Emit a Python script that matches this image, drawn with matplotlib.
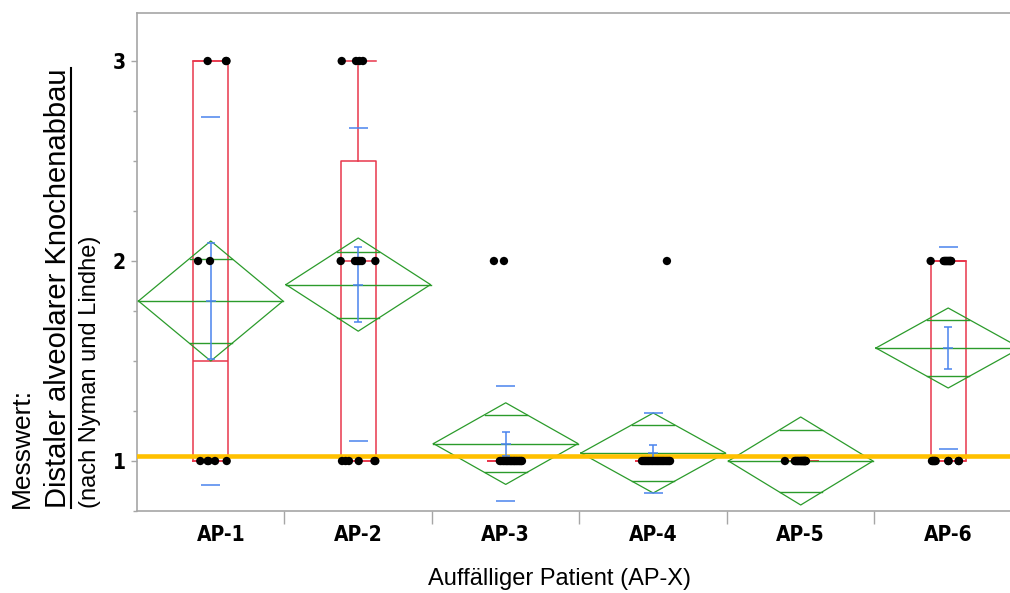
import numpy as np
import matplotlib
matplotlib.use("Agg")
import matplotlib.pyplot as plt
from matplotlib.lines import Line2D
from matplotlib.transforms import ScaledTranslation

# groups on the x axis
groups = ["AP-1", "AP-2", "AP-3", "AP-4", "AP-5", "AP-6"]

# single observations per patient (scores 1..3) and their horizontal jitter
ap1_vals = [1, 1, 1, 1, 1, 2, 2, 3, 3, 3]
ap1_jit = [-0.071, -0.021, -0.015, 0.029, 0.108, -0.086, -0.005, -0.021, 0.103, 0.107]
ap2_vals = [1, 1, 1, 1, 1, 1, 2, 2, 2, 2, 2, 2, 2, 3, 3, 3, 3]
ap2_jit = [-0.110, -0.086, -0.063, 0.003, 0.110, 0.116,
           -0.119, -0.022, -0.008, 0.002, 0.012, 0.025, 0.116,
           -0.112, -0.015, 0.008, 0.032]
ap3_vals = [1] * 21 + [2, 2]
ap3_jit = [-0.04, -0.032, -0.02, -0.012, -0.002, 0.006, 0.012, 0.021, 0.03, 0.036, 0.043,
           0.051, 0.057, 0.063, 0.071, 0.077, 0.085, 0.092, 0.098, 0.105, 0.11,
           -0.080, -0.012]
ap4_vals = [1] * 24 + [2]
ap4_jit = [-0.076, -0.066, -0.058, -0.05, -0.041, -0.033, -0.026, -0.017, -0.008, 0.0, 0.009,
           0.017, 0.026, 0.034, 0.042, 0.05, 0.058, 0.066, 0.074, 0.083, 0.091, 0.099, 0.107,
           0.114, 0.093]
ap5_vals = [1] * 20
ap5_jit = [-0.107, -0.04, -0.035, -0.03, -0.024, -0.019, -0.014, -0.008, -0.003, 0.002, 0.006,
           0.01, 0.014, 0.018, 0.021, 0.024, 0.027, 0.03, 0.033, 0.035]
ap6_vals = [1] * 10 + [2] * 13
ap6_jit = [-0.11, -0.105, -0.1, -0.095, -0.09, -0.085, 0.0, 0.003, 0.07, 0.073,
           -0.119, -0.03, -0.025, -0.02, -0.015, -0.01, -0.005, 0.0, 0.005, 0.01, 0.014, 0.017, 0.02]

# summary values
means = [1.80, 1.882, 1.087, 1.04, 1.00, 1.565]
ci_half = [0.30, 0.233, 0.204, 0.20, 0.22, 0.20]
sd = [0.919, 0.781, 0.288, 0.20, 0.0, 0.507]
se = [0.29, 0.189, 0.06, 0.04, 0.0, 0.106]

q1 = [1, 1, 1, 1, 1, 1]
median = [1.5, 2, 1, 1, 1, 2]
q3 = [3, 2.5, 1, 1, 1, 2]
whisk_lo = [1, 1, 1, 1, 1, 1]
whisk_hi = [3, 3, 1, 1, 1, 2]

ref_value = 1.025

red = "#e8374c"
green = "#2b9b2b"
blue = "#4a84ee"
orange = "#ffc000"
grey = "#a6a6a6"

fig = plt.figure(figsize=(10.1, 5.93), dpi=100)
ax = fig.add_axes([137 / 1010, 82 / 593, 873 / 1010, 498.5 / 593])

x = np.arange(len(groups))

# box plots
stats = []
for i in range(len(groups)):
    stats.append(dict(med=median[i], q1=q1[i], q3=q3[i],
                      whislo=whisk_lo[i], whishi=whisk_hi[i], fliers=[]))
ax.bxp(stats, positions=x, widths=0.237, capwidths=0.237, showfliers=False,
       manage_ticks=False,
       boxprops=dict(color=red, lw=1.1),
       medianprops=dict(color=red, lw=1.1),
       whiskerprops=dict(color=red, lw=1.1),
       capprops=dict(color=red, lw=1.1))

# means diamonds with overlap marks
hw = 0.49
for i in range(len(groups)):
    m, c = means[i], ci_half[i]
    ax.plot([x[i] - hw, x[i], x[i] + hw, x[i], x[i] - hw],
            [m, m + c, m, m - c, m], color=green, lw=0.9, zorder=3)
    ax.plot([x[i] - hw, x[i] + hw], [m, m], color=green, lw=1.0, zorder=3)
    ov = c / np.sqrt(2)
    w = hw * (1 - 1 / np.sqrt(2))
    ax.plot([x[i] - w, x[i] + w], [m + ov, m + ov], color=green, lw=1.0, zorder=3)
    ax.plot([x[i] - w, x[i] + w], [m - ov, m - ov], color=green, lw=1.0, zorder=3)

# reference line
ax.axhline(ref_value, color=orange, lw=3.3, zorder=3.5)

# std dev lines and std error bars
has_sd = np.array(sd) > 0
sd_x = x[has_sd]
sd_m = np.array(means)[has_sd]
sd_v = np.array(sd)[has_sd]
ax.hlines(sd_m + sd_v, sd_x - 0.064, sd_x + 0.064, color=blue, lw=1.1, zorder=4)
ax.hlines(sd_m - sd_v, sd_x - 0.064, sd_x + 0.064, color=blue, lw=1.1, zorder=4)
ax.errorbar(sd_x, sd_m, yerr=np.array(se)[has_sd], fmt="_", ms=7, mew=1.1,
            color=blue, ecolor=blue, elinewidth=1.1, capsize=3.2, capthick=1.1, zorder=4)

# points
all_vals = [ap1_vals, ap2_vals, ap3_vals, ap4_vals, ap5_vals, ap6_vals]
all_jit = [ap1_jit, ap2_jit, ap3_jit, ap4_jit, ap5_jit, ap6_jit]
for i in range(len(groups)):
    ax.scatter(x[i] + np.array(all_jit[i]), all_vals[i], s=36, color="black",
               edgecolors="none", zorder=5)

ax.set_xlim(-0.5, 5.419)
ax.set_ylim(0.75, 3.2425)

tick_font = dict(family="DejaVu Sans", stretch="condensed", weight="bold")

ax.set_yticks([1, 2, 3])
ax.set_yticklabels(["1", "2", "3"], fontsize=15, **tick_font)
ax.set_yticks(np.arange(0.75, 3.25, 0.25), minor=True)
ax.tick_params(axis="y", which="both", direction="out", color=grey, pad=4)
ax.tick_params(axis="y", which="major", length=4, width=1)
ax.tick_params(axis="y", which="minor", length=3, width=1)

ax.set_xticks(x)
ax.set_xticklabels(groups, fontsize=15, **tick_font)
ax.set_xticks(np.arange(0.5, 5.0, 1.0), minor=True)
ax.tick_params(axis="x", which="major", length=0, pad=10)
ax.tick_params(axis="x", which="minor", direction="out", length=9, width=1, color=grey)
lbl = ax.get_xticklabels()[0]
lbl.set_transform(lbl.get_transform() + ScaledTranslation(0.1, 0, fig.dpi_scale_trans))

for side in ["left", "bottom", "top"]:
    ax.spines[side].set_color(grey)
    ax.spines[side].set_linewidth(1.2)
ax.spines["right"].set_visible(False)

# axis titles
fig.text(559 / 1010, 14 / 593, "Auffälliger Patient (AP-X)", ha="center", va="center",
         fontsize=17, family="Liberation Sans")
fig.text(22 / 1010, 85 / 593, "Messwert:", rotation=90, ha="center", va="bottom",
         fontsize=19, family="Liberation Sans")
fig.text(58 / 1010, 85 / 593, "Distaler alveolarer Knochenabbau", rotation=90,
         ha="center", va="bottom", fontsize=21, family="Liberation Sans")
fig.text(90 / 1010, 85 / 593, "(nach Nyman und Lindhe)", rotation=90, ha="center",
         va="bottom", fontsize=17, family="Liberation Sans")
fig.add_artist(Line2D([71 / 1010, 71 / 1010], [85 / 593, 525 / 593], color="black",
                      lw=1.5, transform=fig.transFigure))

fig.savefig("out.png", dpi=100)
